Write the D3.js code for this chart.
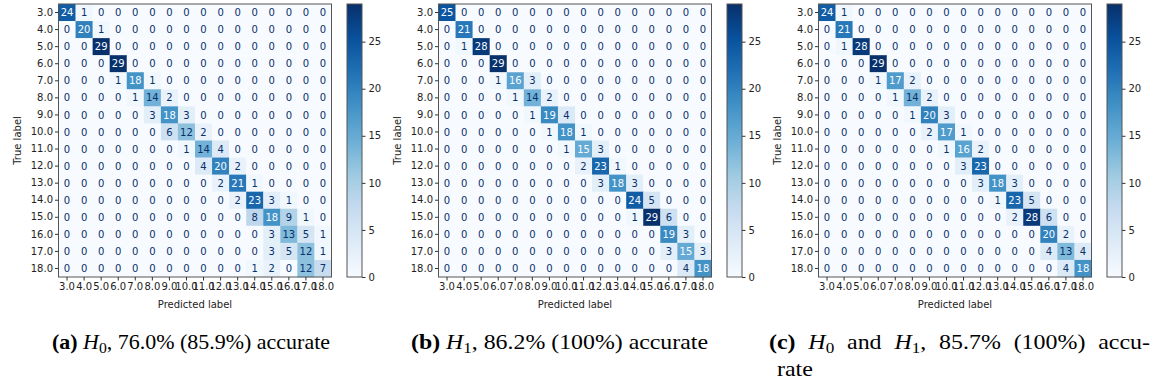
<!DOCTYPE html>
<html>
<head>
<meta charset="utf-8">
<script src="https://cdn.jsdelivr.net/npm/d3@7"></script>
<style>
  html, body { margin: 0; padding: 0; background: #fff; }
  svg { display: block; }
  .tick text { font-family: "DejaVu Sans", sans-serif; }
</style>
</head>
<body>
<svg id="chart" width="1151" height="388"></svg>
<script>
// ---------------- DATA ----------------
const labels = ["3.0","4.0","5.0","6.0","7.0","8.0","9.0","10.0","11.0","12.0","13.0","14.0","15.0","16.0","17.0","18.0"];

const matrixA = [
  [24,1,0,0,0,0,0,0,0,0,0,0,0,0,0,0],
  [0,20,1,0,0,0,0,0,0,0,0,0,0,0,0,0],
  [0,0,29,0,0,0,0,0,0,0,0,0,0,0,0,0],
  [0,0,0,29,0,0,0,0,0,0,0,0,0,0,0,0],
  [0,0,0,1,18,1,0,0,0,0,0,0,0,0,0,0],
  [0,0,0,0,1,14,2,0,0,0,0,0,0,0,0,0],
  [0,0,0,0,0,3,18,3,0,0,0,0,0,0,0,0],
  [0,0,0,0,0,0,6,12,2,0,0,0,0,0,0,0],
  [0,0,0,0,0,0,0,1,14,4,0,0,0,0,0,0],
  [0,0,0,0,0,0,0,0,4,20,2,0,0,0,0,0],
  [0,0,0,0,0,0,0,0,0,2,21,1,0,0,0,0],
  [0,0,0,0,0,0,0,0,0,0,2,23,3,1,0,0],
  [0,0,0,0,0,0,0,0,0,0,0,8,18,9,1,0],
  [0,0,0,0,0,0,0,0,0,0,0,0,3,13,5,1],
  [0,0,0,0,0,0,0,0,0,0,0,0,3,5,12,1],
  [0,0,0,0,0,0,0,0,0,0,0,1,2,0,12,7]
];

const matrixB = [
  [25,0,0,0,0,0,0,0,0,0,0,0,0,0,0,0],
  [0,21,0,0,0,0,0,0,0,0,0,0,0,0,0,0],
  [0,1,28,0,0,0,0,0,0,0,0,0,0,0,0,0],
  [0,0,0,29,0,0,0,0,0,0,0,0,0,0,0,0],
  [0,0,0,1,16,3,0,0,0,0,0,0,0,0,0,0],
  [0,0,0,0,1,14,2,0,0,0,0,0,0,0,0,0],
  [0,0,0,0,0,1,19,4,0,0,0,0,0,0,0,0],
  [0,0,0,0,0,0,1,18,1,0,0,0,0,0,0,0],
  [0,0,0,0,0,0,0,1,15,3,0,0,0,0,0,0],
  [0,0,0,0,0,0,0,0,2,23,1,0,0,0,0,0],
  [0,0,0,0,0,0,0,0,0,3,18,3,0,0,0,0],
  [0,0,0,0,0,0,0,0,0,0,0,24,5,0,0,0],
  [0,0,0,0,0,0,0,0,0,0,0,1,29,6,0,0],
  [0,0,0,0,0,0,0,0,0,0,0,0,0,19,3,0],
  [0,0,0,0,0,0,0,0,0,0,0,0,0,3,15,3],
  [0,0,0,0,0,0,0,0,0,0,0,0,0,0,4,18]
];

const matrixC = [
  [24,1,0,0,0,0,0,0,0,0,0,0,0,0,0,0],
  [0,21,0,0,0,0,0,0,0,0,0,0,0,0,0,0],
  [0,1,28,0,0,0,0,0,0,0,0,0,0,0,0,0],
  [0,0,0,29,0,0,0,0,0,0,0,0,0,0,0,0],
  [0,0,0,1,17,2,0,0,0,0,0,0,0,0,0,0],
  [0,0,0,0,1,14,2,0,0,0,0,0,0,0,0,0],
  [0,0,0,0,0,1,20,3,0,0,0,0,0,0,0,0],
  [0,0,0,0,0,0,2,17,1,0,0,0,0,0,0,0],
  [0,0,0,0,0,0,0,1,16,2,0,0,0,0,0,0],
  [0,0,0,0,0,0,0,0,3,23,0,0,0,0,0,0],
  [0,0,0,0,0,0,0,0,0,3,18,3,0,0,0,0],
  [0,0,0,0,0,0,0,0,0,0,1,23,5,0,0,0],
  [0,0,0,0,0,0,0,0,0,0,0,2,28,6,0,0],
  [0,0,0,0,0,0,0,0,0,0,0,0,0,20,2,0],
  [0,0,0,0,0,0,0,0,0,0,0,0,0,4,13,4],
  [0,0,0,0,0,0,0,0,0,0,0,0,0,0,4,18]
];

const colorbarTicks = [0, 5, 10, 15, 20, 25];
const xAxisTitle = "Predicted label";
const yAxisTitle = "True label";

// caption pieces: [text, style]  style: b=bold, i=italic, sub=subscript
const captionA = [["(a)","b"],[" ",""],["H","i"],["0","sub"],[", 76.0% (85.9%) accurate",""]];
const captionB = [["(b)","b"],[" ",""],["H","i"],["1","sub"],[", 86.2% (100%) accurate",""]];
const captionC1 = [["(c)","b"],[" ",""],["H","i"],["0","sub"],[" and ",""],["H","i"],["1","sub"],[", 85.7% (100%) accu-",""]];
const captionC2 = [["rate",""]];

// ---------------- STYLE / LAYOUT ----------------
const blues = ["#f7fbff","#deebf7","#c6dbef","#9ecae1","#6baed6","#4292c6","#2171b5","#08519c","#08306b"];
const svg = d3.select("#chart");

const panels = [
  { m: matrixA, dx: 0,   cap: [captionA], capX: 52,  capW: [278], justify: false },
  { m: matrixB, dx: 380, cap: [captionB], capX: 411, capW: [297], justify: false },
  { m: matrixC, dx: 760, cap: [captionC1, captionC2], capX: 769, capW: [381, null], justify: true }
];

const mLeft = 58.5, mTop = 4, mSize = 273;
const cbLeft = 347, cbWidth = 15;
const capScaleX = 1.14;

panels.forEach((p, pi) => {
  const g = svg.append("g").attr("transform", `translate(${p.dx},0)`);
  const flat = p.m.flat();
  const vmin = d3.min(flat), vmax = d3.max(flat);
  const color = d3.scaleLinear()
    .domain(d3.range(blues.length).map(i => vmin + (vmax - vmin) * i / (blues.length - 1)))
    .range(blues)
    .interpolate(d3.interpolateRgb);
  const thresh = (vmax + vmin) / 2;

  const x = d3.scaleBand().domain(labels).range([mLeft, mLeft + mSize]);
  const y = d3.scaleBand().domain(labels).range([mTop, mTop + mSize]);

  const cells = [];
  p.m.forEach((row, i) => row.forEach((v, j) => cells.push({ r: labels[i], c: labels[j], v })));

  g.selectAll("rect.cell").data(cells).join("rect")
    .attr("class", "cell")
    .attr("x", d => x(d.c)).attr("y", d => y(d.r))
    .attr("width", x.bandwidth() + 0.3).attr("height", y.bandwidth() + 0.3)
    .attr("fill", d => color(d.v));

  g.selectAll("text.val").data(cells).join("text")
    .attr("class", "val")
    .attr("x", d => x(d.c) + x.bandwidth() / 2)
    .attr("y", d => y(d.r) + y.bandwidth() / 2)
    .attr("dy", "0.36em")
    .attr("text-anchor", "middle")
    .attr("font-family", "DejaVu Sans, sans-serif")
    .attr("font-size", 10)
    .attr("fill", d => d.v < thresh ? blues[8] : blues[0])
    .text(d => d.v);

  // frame
  g.append("rect")
    .attr("x", mLeft).attr("y", mTop).attr("width", mSize).attr("height", mSize)
    .attr("fill", "none").attr("stroke", "#555").attr("stroke-width", 1);

  // axes
  const xAxis = d3.axisBottom(x).tickSize(3.5).tickPadding(2).tickSizeOuter(0);
  const gx = g.append("g").attr("transform", `translate(0,${mTop + mSize})`).call(xAxis);
  gx.select(".domain").remove();
  gx.selectAll(".tick line").attr("stroke", "#333");
  gx.selectAll(".tick text").attr("font-size", 10).attr("fill", "#222");

  const yAxis = d3.axisLeft(y).tickSize(3.5).tickPadding(2).tickSizeOuter(0);
  const gy = g.append("g").attr("transform", `translate(${mLeft},0)`).call(yAxis);
  gy.select(".domain").remove();
  gy.selectAll(".tick line").attr("stroke", "#333");
  gy.selectAll(".tick text").attr("font-size", 10).attr("fill", "#222");

  g.append("text")
    .attr("x", mLeft + mSize / 2).attr("y", 308)
    .attr("text-anchor", "middle")
    .attr("font-family", "DejaVu Sans, sans-serif").attr("font-size", 10).attr("fill", "#222")
    .text(xAxisTitle);

  g.append("text")
    .attr("transform", `translate(21,${mTop + mSize / 2}) rotate(-90)`)
    .attr("text-anchor", "middle")
    .attr("font-family", "DejaVu Sans, sans-serif").attr("font-size", 10).attr("fill", "#222")
    .text(yAxisTitle);

  // colorbar
  const cbScale = d3.scaleLinear().domain([vmin, vmax]).range([mTop + mSize, mTop]);
  const gradId = "grad" + pi;
  const grad = svg.append("defs").append("linearGradient")
    .attr("id", gradId).attr("x1", "0").attr("y1", "1").attr("x2", "0").attr("y2", "0");
  blues.forEach((c, i) => grad.append("stop")
    .attr("offset", i / (blues.length - 1)).attr("stop-color", c));
  g.append("rect")
    .attr("x", cbLeft).attr("y", mTop).attr("width", cbWidth).attr("height", mSize)
    .attr("fill", `url(#${gradId})`).attr("stroke", "#555").attr("stroke-width", 1);
  const cbAxis = d3.axisRight(cbScale).tickValues(colorbarTicks).tickSize(3.5).tickPadding(3).tickFormat(d3.format("d"));
  const gc = g.append("g").attr("transform", `translate(${cbLeft + cbWidth},0)`).call(cbAxis);
  gc.select(".domain").remove();
  gc.selectAll(".tick line").attr("stroke", "#333");
  gc.selectAll(".tick text").attr("font-size", 10).attr("fill", "#222");

  // captions
  p.cap.forEach((line, li) => {
    const x0 = p.capX + (li > 0 ? 8 : 0);
    const t = svg.append("text")
      .attr("x", x0).attr("y", 349 + li * 27)
      .attr("font-family", "Liberation Serif, Times New Roman, serif")
      .attr("font-size", 21).attr("fill", "#000");
    let prevSub = false;
    line.forEach(([s, st]) => {
      const ts = t.append("tspan").text(s);
      if (st === "b") ts.attr("font-weight", "bold");
      if (st === "i") ts.attr("font-style", "italic");
      if (st === "sub") { ts.attr("font-size", 15).attr("dy", 4); prevSub = true; }
      else { ts.attr("dy", prevSub ? -4 : 0); prevSub = false; }
    });
    const target = p.capW[li];
    if (p.justify) {
      // justified line: slight horizontal glyph scale plus widened inter-word spaces
      t.attr("transform", `translate(${x0},0) scale(${capScaleX},1) translate(${-x0},0)`);
      if (target) {
        const natural = t.node().getComputedTextLength();
        const nSpaces = line.map(d => d[0]).join("").split(" ").length - 1;
        t.attr("word-spacing", Math.max(0, (target / capScaleX - natural) / nSpaces));
      }
    } else if (target) {
      t.attr("textLength", target).attr("lengthAdjust", "spacingAndGlyphs");
    }
  });
});
</script>
</body>
</html>
